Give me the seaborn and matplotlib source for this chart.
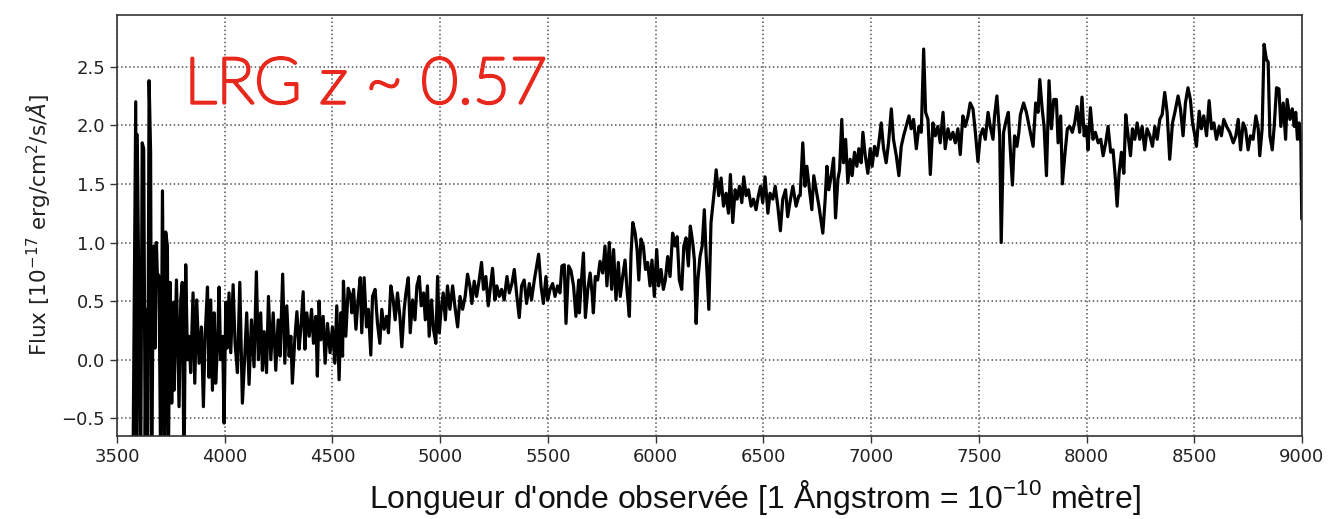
import numpy as np
import pandas as pd
import matplotlib
matplotlib.use("Agg")
import matplotlib.pyplot as plt
import matplotlib.patheffects as pe
import seaborn as sns

# Observed-frame spectrum of a luminous red galaxy, flux in 1e-17 erg/cm^2/s/A
wave_a = [3574, 3587, 3591, 3594, 3602, 3610, 3617, 3624, 3631, 3636, 3642, 3649, 3656,
          3661, 3666, 3672, 3677, 3683, 3687, 3695, 3703, 3711, 3718, 3721, 3726, 3734,
          3738, 3746, 3754, 3762, 3765, 3776, 3788, 3796, 3803, 3811, 3819, 3827, 3834,
          3842, 3853, 3861, 3870, 3881, 3892, 3901, 3909, 3920, 3927, 3935, 3943, 3951,
          3958, 3966, 3974, 3981, 3990, 3997, 4005, 4012, 4020, 4028]
flux_a = [-1.0, 2.20, -1.0, 1.92, 0.43, -1.0, 1.85, 1.80, -0.8, 0.43, -1.0, 2.38, 1.77,
          -1.0, 0.20, 0.97, 0.10, 1.00, 0.74, 0.71, -1.0, 1.44, -0.20, -1.0, 1.09, 0.97,
          -1.0, 0.66, -0.37, 0.49, -0.26, 0.68, -0.40, 0.51, 0.66, -1.0, 0.81, 0.00, 0.20,
          -0.11, 0.57, -0.20, 0.51, -0.03, 0.28, -0.40, 0.20, 0.62, -0.15, 0.51, -0.26, 0.40,
          -0.20, 0.10, 0.62, 0.00, 0.20, -0.54, 0.49, 0.10, 0.57, 0.06]

wave_b = [4039, 4048, 4059, 4070, 4082, 4093, 4102, 4113, 4124, 4136, 4147, 4156, 4167,
          4175, 4183, 4194, 4203, 4214, 4225, 4237, 4248, 4257, 4269, 4279, 4288, 4299,
          4307, 4314, 4325, 4335, 4345, 4353, 4364, 4372, 4381, 4392, 4403, 4412, 4423,
          4430, 4438, 4446, 4457, 4466, 4477, 4489, 4500, 4511, 4520, 4531, 4539, 4547,
          4551, 4562, 4573, 4585]
flux_b = [0.64, 0.14, -0.11, 0.66, -0.37, 0.03, 0.40, -0.21, 0.34, -0.06, 0.75, 0.00, 0.40,
          -0.09, 0.24, -0.11, 0.54, 0.00, 0.40, -0.09, 0.34, 0.03, 0.73, -0.03, 0.46, 0.03,
          0.20, -0.20, 0.17, 0.41, 0.09, 0.26, 0.58, 0.09, 0.40, 0.20, 0.43, 0.14, 0.37,
          -0.14, 0.50, 0.17, 0.37, -0.03, 0.31, 0.06, 0.28, -0.03, 0.46, -0.17, 0.40, 0.03,
          0.67, 0.20, 0.61, 0.54]

wave_c = [4590, 4598, 4609, 4619, 4629, 4636, 4647, 4658, 4667, 4678, 4686, 4698, 4709,
          4720, 4729, 4740, 4751, 4760, 4771, 4782, 4791, 4802, 4813, 4822, 4833, 4841,
          4852, 4861, 4872, 4883, 4892, 4903, 4912, 4923, 4931, 4941, 4949, 4960, 4969,
          4980, 4988, 4996, 5003, 5014, 5024, 5034, 5045, 5058, 5068, 5081, 5092, 5104,
          5116, 5127, 5138, 5147, 5158, 5169, 5181, 5192, 5201, 5212, 5223, 5232, 5243,
          5254, 5263, 5274, 5285, 5297, 5310, 5321, 5333, 5344, 5356, 5367, 5378, 5390,
          5401, 5414, 5424, 5437, 5448, 5457, 5468, 5479, 5491, 5499, 5510, 5522, 5533,
          5545, 5556, 5565, 5576, 5584, 5596, 5607, 5619, 5630, 5643]
flux_c = [0.40, 0.60, 0.26, 0.51, 0.70, 0.23, 0.70, 0.28, 0.43, 0.04, 0.54, 0.60, 0.31,
          0.14, 0.43, 0.26, 0.37, 0.23, 0.63, 0.51, 0.34, 0.57, 0.37, 0.11, 0.43, 0.57,
          0.70, 0.23, 0.51, 0.34, 0.63, 0.71, 0.46, 0.57, 0.34, 0.63, 0.20, 0.51, 0.26,
          0.14, 0.71, 0.23, 0.40, 0.57, 0.34, 0.63, 0.43, 0.63, 0.46, 0.28, 0.54, 0.43,
          0.54, 0.73, 0.63, 0.48, 0.67, 0.54, 0.68, 0.83, 0.60, 0.71, 0.46, 0.60, 0.78,
          0.51, 0.63, 0.54, 0.60, 0.51, 0.71, 0.57, 0.65, 0.77, 0.54, 0.36, 0.63, 0.68,
          0.48, 0.65, 0.51, 0.68, 0.80, 0.90, 0.63, 0.48, 0.71, 0.51, 0.60, 0.65, 0.54,
          0.63, 0.57, 0.80, 0.81, 0.31, 0.80, 0.76, 0.63, 0.37, 0.68]

wave_d = [5646, 5654, 5665, 5674, 5685, 5696, 5705, 5711, 5720, 5731, 5742, 5754, 5765,
          5774, 5785, 5796, 5805, 5816, 5827, 5836, 5847, 5858, 5867, 5878, 5886, 5894,
          5905, 5914, 5922, 5932, 5943, 5953, 5963, 5974, 5983, 5994, 6005, 6014, 6025,
          6036, 6045, 6056, 6067, 6079, 6090, 6100, 6110, 6121, 6131, 6141, 6152, 6161,
          6172, 6180, 6188, 6196, 6206, 6216, 6226, 6234, 6247, 6257, 6265, 6273, 6281,
          6293, 6304, 6315, 6327, 6338, 6347, 6358, 6369, 6378, 6389, 6400, 6409, 6420,
          6431, 6443, 6454, 6466, 6477, 6487, 6497, 6508, 6521, 6531, 6544, 6555, 6567,
          6579, 6590, 6603, 6613, 6626, 6637, 6652, 6665]
flux_d = [0.40, 0.63, 0.91, 0.36, 0.60, 0.74, 0.57, 0.40, 0.71, 0.68, 0.84, 0.74, 0.97,
          0.63, 1.00, 0.60, 0.94, 0.51, 0.83, 0.54, 0.71, 0.85, 0.60, 0.37, 0.91, 1.17,
          1.08, 0.94, 0.68, 1.03, 0.97, 0.77, 0.83, 0.63, 0.85, 0.54, 0.94, 0.63, 0.77,
          0.60, 0.68, 0.88, 0.71, 1.08, 0.97, 1.05, 0.68, 0.60, 0.97, 1.04, 0.80, 1.14,
          1.00, 0.85, 0.31, 0.68, 0.88, 0.97, 1.28, 0.91, 0.43, 1.17, 1.31, 1.45, 1.62,
          1.40, 1.55, 1.31, 1.42, 1.25, 1.58, 1.17, 1.45, 1.37, 1.48, 1.34, 1.56, 1.40,
          1.45, 1.31, 1.37, 1.28, 1.40, 1.48, 1.34, 1.56, 1.25, 1.42, 1.37, 1.48, 1.31,
          1.10, 1.37, 1.45, 1.22, 1.37, 1.48, 1.31, 1.40]

wave_e = [6671, 6683, 6693, 6702, 6714, 6725, 6734, 6745, 6758, 6769, 6776, 6787, 6795,
          6804, 6815, 6826, 6835, 6846, 6854, 6864, 6872, 6882, 6892, 6903, 6912, 6923,
          6934, 6943, 6954, 6962, 6973, 6985, 6996, 7005, 7016, 7027, 7036, 7047, 7058,
          7070, 7081, 7094, 7104, 7117, 7129, 7140, 7151, 7163, 7176, 7186, 7197, 7210,
          7222, 7233, 7244, 7253, 7264, 7275, 7287, 7298, 7310, 7321, 7334, 7344, 7357,
          7368, 7380, 7391, 7403, 7414, 7426, 7437, 7450, 7460, 7473, 7484, 7496, 7507,
          7519, 7530, 7543, 7553, 7566, 7573, 7584, 7597, 7604, 7615, 7628, 7637, 7646,
          7656, 7666, 7677, 7686]
flux_e = [1.40, 1.85, 1.48, 1.65, 1.45, 1.28, 1.57, 1.45, 1.31, 1.17, 1.08, 1.37, 1.65,
          1.45, 1.57, 1.72, 1.21, 1.54, 1.62, 2.05, 1.68, 1.88, 1.51, 1.71, 1.57, 1.77,
          1.65, 1.80, 1.68, 1.94, 1.74, 1.59, 1.80, 1.65, 1.82, 1.74, 1.85, 2.02, 1.80,
          1.68, 1.85, 2.14, 1.88, 1.74, 1.57, 1.82, 1.91, 1.99, 2.08, 1.97, 2.05, 1.80,
          1.99, 1.94, 2.65, 2.11, 2.05, 1.58, 2.02, 1.91, 1.99, 1.85, 2.11, 1.80, 1.97,
          1.88, 1.94, 1.85, 1.97, 1.75, 2.08, 1.99, 2.08, 2.19, 2.14, 1.94, 1.69, 1.91,
          1.97, 1.88, 2.11, 1.99, 1.88, 2.08, 2.25, 1.91, 1.00, 1.94, 2.05, 2.11, 1.80,
          1.49, 1.91, 1.82, 1.94]

wave_f = [7693, 7708, 7721, 7736, 7752, 7764, 7775, 7783, 7794, 7803, 7814, 7826, 7837,
          7848, 7860, 7868, 7880, 7888, 7899, 7911, 7922, 7934, 7945, 7956, 7968, 7979,
          7989, 7999, 8007, 8018, 8030, 8041, 8054, 8066, 8077, 8089, 8100, 8112, 8123,
          8134, 8142, 8151, 8162, 8173, 8182, 8193, 8204, 8213, 8224, 8235, 8247, 8258,
          8270, 8281, 8294, 8306, 8317, 8328, 8340, 8351, 8363, 8374, 8386, 8399, 8410,
          8425, 8436, 8448, 8459, 8471, 8482, 8492, 8503, 8510, 8523, 8533, 8544, 8557,
          8569, 8580, 8591, 8603, 8616, 8626, 8637, 8650, 8665, 8681, 8693, 8704, 8715,
          8727, 8738, 8750, 8761, 8773, 8786, 8797, 8804, 8815, 8824, 8835, 8843, 8851,
          8862, 8871, 8882, 8893, 8902, 8913, 8924, 8931, 8944, 8955, 8964, 8971, 8979,
          8987, 8995, 8999]
flux_f = [2.09, 2.19, 2.11, 1.97, 1.82, 2.19, 2.11, 2.39, 2.14, 1.99, 1.57, 2.38, 1.97,
          2.22, 2.22, 1.85, 2.08, 1.50, 1.74, 1.97, 1.99, 1.94, 2.02, 2.16, 1.94, 2.24,
          1.91, 1.99, 1.79, 2.15, 1.88, 1.94, 1.85, 1.88, 1.74, 1.85, 1.99, 1.77, 1.79,
          1.54, 1.31, 1.59, 1.77, 1.59, 2.09, 1.91, 1.74, 1.97, 1.88, 2.02, 1.88, 1.99,
          1.79, 1.97, 1.91, 1.82, 1.99, 1.88, 2.05, 2.09, 2.28, 2.11, 1.71, 2.02, 2.11,
          2.25, 2.14, 1.91, 2.19, 2.32, 2.22, 2.02, 1.91, 1.82, 2.12, 1.97, 2.08, 1.91,
          2.21, 1.97, 2.02, 1.88, 1.99, 1.91, 2.05, 1.99, 1.94, 1.85, 1.91, 2.05, 1.79,
          2.02, 1.97, 1.79, 1.91, 1.88, 2.08, 1.97, 1.74, 1.97, 2.69, 2.56, 2.54, 1.91,
          1.79, 1.99, 2.32, 2.31, 1.99, 2.19, 1.88, 2.22, 2.05, 2.14, 1.99, 2.11, 1.88,
          2.02, 1.85, 1.20]

x_ticks = [3500, 4000, 4500, 5000, 5500, 6000, 6500, 7000, 7500, 8000, 8500, 9000]
y_ticks = [-0.5, 0.0, 0.5, 1.0, 1.5, 2.0, 2.5]
title_text = "LRG z ~ 0.57"
x_label = "Longueur d'onde observée [1 Ångstrom = 10$^{\\mathregular{-10}}$ mètre]"
y_label = r"Flux [$10^{-17}$ erg/cm$^{2}$/s/$\mathit{Å}$]"

spectrum = pd.DataFrame({
    "wave": wave_a + wave_b + wave_c + wave_d + wave_e + wave_f,
    "flux": flux_a + flux_b + flux_c + flux_d + flux_e + flux_f,
})

sns.set_style("ticks")
plt.rcParams["font.family"] = ["DejaVu Sans"]

fig = plt.figure(figsize=(13.34, 5.19), dpi=100)
ax = fig.add_axes([0.0877, 0.160, 0.8883, 0.811])

sns.lineplot(data=spectrum, x="wave", y="flux", color="black", linewidth=2.3,
             estimator=None, sort=False, ax=ax)

ax.set_xlim(3500, 9000)
ax.set_ylim(-0.65, 2.94)
ax.set_xticks(x_ticks)
ax.set_yticks(y_ticks)
ax.tick_params(axis="both", labelsize=13, length=5, width=1, color="#333333",
               labelcolor="#222222")
ax.grid(True, linestyle=":", color="#555555", linewidth=1.1)
for side in ax.spines.values():
    side.set_color("#333333")
    side.set_linewidth(1.2)

ax.set_xlabel("")
ax.set_ylabel(y_label, fontsize=15.5, color="#222222", labelpad=6)

fig.text(0.566, 0.042, x_label, ha="center", va="center", fontsize=23,
         family="Liberation Sans", color="#111111")

red = "#e8281c"
ax.text(0.057, 0.791, title_text, transform=ax.transAxes, ha="left", va="baseline",
        fontsize=46, family="Lato", fontweight="light", color=red,
        path_effects=[pe.Stroke(linewidth=2.4, foreground=red), pe.Normal()])

fig.savefig("out.png", dpi=100)
